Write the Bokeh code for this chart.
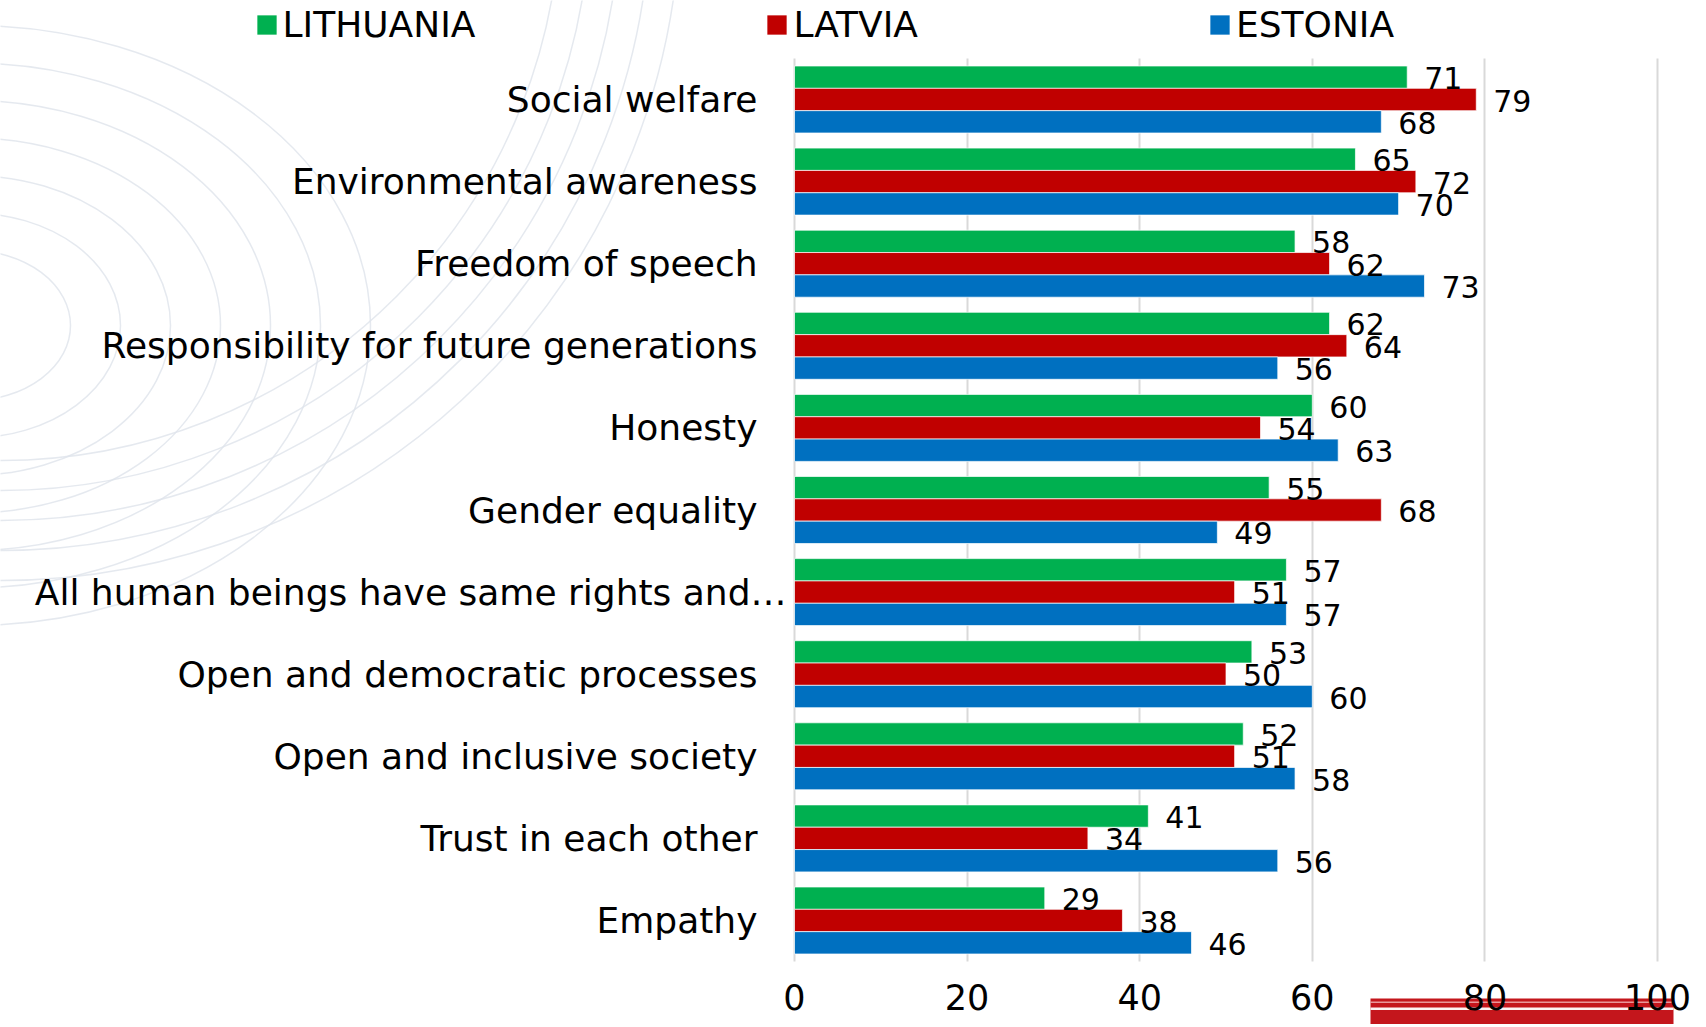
from bokeh.plotting import figure
from bokeh.models import Range1d, Legend, LegendItem, ColumnDataSource, BoxAnnotation, FixedTicker
from bokeh.core.properties import value
from bokeh.embed import file_html
from bokeh.resources import INLINE

# ---------------- data ----------------
categories = [
    "Social welfare",
    "Environmental awareness",
    "Freedom of speech",
    "Responsibility for future generations",
    "Honesty",
    "Gender equality",
    "All human beings have same rights and\u2026",
    "Open and democratic processes",
    "Open and inclusive society",
    "Trust in each other",
    "Empathy",
]
lithuania = [71, 65, 58, 62, 60, 55, 57, 53, 52, 41, 29]
latvia = [79, 72, 62, 64, 54, 68, 51, 50, 51, 34, 38]
estonia = [68, 70, 73, 56, 63, 49, 57, 60, 58, 56, 46]
series_names = ["LITHUANIA", "LATVIA", "ESTONIA"]
x_ticks = [0, 20, 40, 60, 80, 100]

# ---------------- layout / style ----------------
W, H = 1704, 1024
X0_PX, PX_PER_UNIT = 794.0, 8.63      # where value 0 sits, pixels per unit
ROW_PX, ROW0_PX = 82.1, 99.0          # category spacing, centre of first row
FONT = "DejaVu Sans"
colors = ["#00B050", "#C00000", "#0070C0"]
offsets = [-0.272, 0.0, 0.272]        # green on top, blue at bottom
bar_h = 0.272


def px_x(px):
    return (px - X0_PX) / PX_PER_UNIT


def px_y(py):
    return (py - ROW0_PX) / ROW_PX


x_range = Range1d(px_x(0), px_x(W))
y_range = Range1d(px_y(H), px_y(0))   # flipped: first category on top

idx = list(range(len(categories)))
values = {"LITHUANIA": lithuania, "LATVIA": latvia, "ESTONIA": estonia}

p = figure(
    x_range=x_range, y_range=y_range, width=W, height=H,
    min_border=0, min_border_left=0, min_border_right=0,
    min_border_top=0, min_border_bottom=0,
    output_backend="svg", toolbar_location=None,
    background_fill_color="white", border_fill_color="white",
)
p.outline_line_color = None

# faint globe-like wireframe in the background (decoration)
mer_a = [100, 150, 200, 250, 300, 350, 400]
p.ellipse(x=[px_x(-30)] * len(mer_a), y=[px_y(325)] * len(mer_a),
          width=[2 * a for a in mer_a], height=[1.5 * a for a in mer_a],
          width_units="screen", height_units="screen",
          fill_color=None, line_color="#dfe4eb", line_alpha=0.8, line_width=1.5,
          level="underlay")
out_r = [560, 590, 620, 650, 680]
p.ellipse(x=[px_x(0)] * len(out_r), y=[px_y(-100)] * len(out_r),
          width=[2 * r for r in out_r], height=[2 * r for r in out_r],
          width_units="screen", height_units="screen",
          fill_color=None, line_color="#dfe4eb", line_alpha=0.8, line_width=1.5,
          level="underlay")

bars = []
for name, col, off in zip(series_names, colors, offsets):
    s = ColumnDataSource(dict(y=[i + off for i in idx], v=values[name],
                              lbl=[str(v) for v in values[name]]))
    r = p.hbar(y="y", left=0, right="v", height=bar_h, source=s, fill_color=col,
               line_color="white", line_width=1, line_alpha=0.7)
    bars.append((r, s))

for r, s in bars:
    p.text(x="v", y="y", text="lbl", source=s, x_offset=17, y_offset=1,
           text_baseline="middle", text_align="left", text_font=value(FONT),
           text_font_size="30px", text_color="#000000")

# value axis at the bottom of the category band
p.xaxis.ticker = FixedTicker(ticks=x_ticks)
p.xaxis.fixed_location = len(categories) - 0.5
p.xaxis.axis_line_color = None
p.xaxis.major_tick_line_color = None
p.xaxis.minor_tick_line_color = None
p.xaxis.major_tick_out = 0
p.xaxis.major_tick_in = 0
p.xaxis.major_label_text_font = FONT
p.xaxis.major_label_text_font_size = "35px"
p.xaxis.major_label_text_color = "#000000"
p.xaxis.major_label_standoff = 22
p.xaxis.level = "overlay"

# category axis at value 0
long_i = 6
p.yaxis.ticker = FixedTicker(ticks=idx)
p.yaxis.fixed_location = 0
p.yaxis.major_label_overrides = {i: (c if i != long_i else "") for i, c in enumerate(categories)}
p.yaxis.axis_line_color = None
p.yaxis.major_tick_line_color = None
p.yaxis.minor_tick_line_color = None
p.yaxis.major_tick_out = 0
p.yaxis.major_tick_in = 0
p.yaxis.major_label_text_font = FONT
p.yaxis.major_label_text_font_size = "36px"
p.yaxis.major_label_text_color = "#000000"
p.yaxis.major_label_standoff = 37

# the truncated long category label sits closer to the axis in the original
long_src = ColumnDataSource(dict(x=[0], y=[long_i], t=[categories[long_i]]))
p.text(x="x", y="y", text="t", source=long_src, x_offset=-8, text_align="right",
       text_baseline="middle", text_font=value(FONT), text_font_size="36px",
       text_color="#000000")

# grid
p.xgrid.ticker = FixedTicker(ticks=x_ticks)
p.xgrid.grid_line_color = "#d9d9d9"
p.xgrid.grid_line_width = 2
p.xgrid.cross_bounds = (-0.5, len(categories) - 0.5)
p.ygrid.grid_line_color = None

# legend
legend = Legend(
    items=[LegendItem(label=n, renderers=[r]) for n, (r, s) in zip(series_names, bars)],
    orientation="horizontal", location=(253.5, H - 45),
    glyph_width=25, glyph_height=25, label_standoff=4, spacing=289,
    padding=0, margin=0, border_line_alpha=0, background_fill_alpha=0,
    label_text_font=FONT, label_text_font_size="36px",
    label_text_color="#000000", label_text_baseline="middle",
)
p.add_layout(legend)

# red logo strip at the bottom right (background decoration)
for top, bottom, colr, a in [(998, H, "#c4161c", 1.0), (1001, 1002.5, "#f2b8ba", 0.8),
                             (1007, 1009.5, "#ffffff", 0.95)]:
    p.add_layout(BoxAnnotation(left=1370, right=1673, top=top, bottom=bottom,
                               left_units="canvas", right_units="canvas",
                               top_units="canvas", bottom_units="canvas",
                               fill_color=colr, fill_alpha=a, line_color=None))

open("out.html", "w").write(file_html(p, INLINE))
